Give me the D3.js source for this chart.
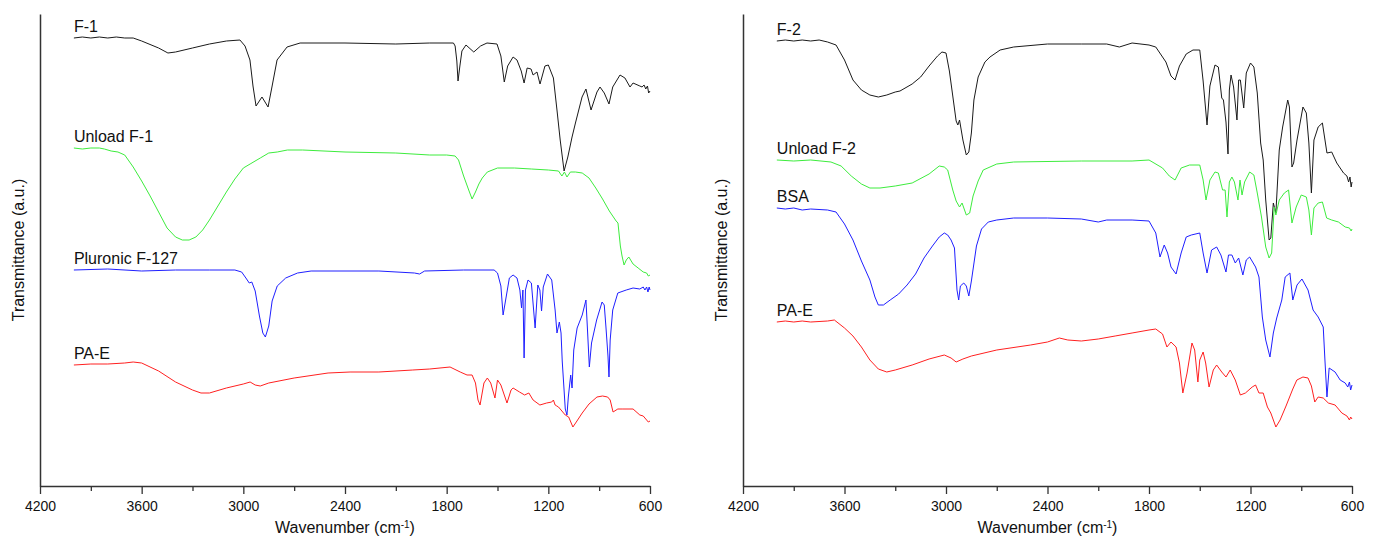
<!DOCTYPE html>
<html>
<head>
<meta charset="utf-8">
<script src="https://cdn.jsdelivr.net/npm/d3@7"></script>
<style>
  body { margin: 0; background: #fff; }
  text { font-family: Arial, "Liberation Sans", sans-serif; fill: #111; }
</style>
</head>
<body>
<svg id="chart" width="1379" height="538"></svg>
<script>
// tick values (wavenumber, cm-1)
const majorTicks = [4200, 3600, 3000, 2400, 1800, 1200, 600];
const minorTicks = [3900, 3300, 2700, 2100, 1500, 900];

// spectra as [wavenumber, transmittance (a.u., stacked)]
const f1 = [[4000,448],[3950,449],[3900,448],[3850,449],[3800,448],[3750,449],[3700,448],[3650,448],[3600,445],[3500,438],[3445,433],[3400,434],[3300,438],[3200,442],[3100,445],[3020,446],[2990,440],[2961,426],[2943,400],[2925,380],[2890,389],[2854,379],[2830,400],[2801,426],[2742,439],[2665,443],[2400,443],[2100,442],[1900,443],[1760,443],[1750,440],[1740,425],[1733,405],[1722,420],[1710,435],[1686,441],[1640,434],[1600,440],[1562,443],[1503,442],[1480,430],[1460,404],[1440,420],[1408,429],[1385,426],[1360,415],[1343,403],[1325,418],[1302,417],[1290,411],[1267,414],[1249,402],[1220,420],[1200,421],[1170,408],[1149,376],[1130,346],[1107,315],[1085,329],[1060,349],[1040,363],[1001,389],[978,397],[948,376],[913,394],[895,399],[870,393],[842,382],[820,399],[777,411],[748,408],[718,399],[700,403],[660,400],[647,399],[635,401],[625,397],[615,400],[608,393],[600,395]];

const unloadF1 = [[4000,338],[3950,337],[3900,338],[3850,338],[3820,337],[3780,335],[3740,334],[3700,331],[3650,319],[3600,305],[3550,290],[3500,274],[3450,258],[3400,249],[3360,246],[3320,246],[3280,249],[3240,256],[3200,266],[3150,280],[3100,294],[3050,307],[3000,318],[2960,322],[2900,328],[2850,333],[2800,334],[2740,336],[2650,336],[2400,334],[2100,333],[1900,331],[1800,331],[1750,330],[1730,326],[1700,310],[1670,296],[1650,287],[1630,294],[1610,302],[1590,308],[1560,314],[1500,318],[1400,318],[1300,317],[1200,316],[1140,315],[1120,310],[1105,314],[1090,309],[1070,314],[1040,314],[1000,313],[960,308],[920,298],[880,287],[840,275],[800,265],[789,263],[775,240],[765,230],[753,221],[740,226],[725,229],[700,222],[670,218],[640,214],[620,213],[610,210],[600,211]];

const pluronic = [[4000,216],[3800,217],[3600,215],[3400,216],[3200,216],[3050,216],[3010,214],[2985,208],[2965,203],[2950,204],[2930,195],[2905,170],[2885,153],[2870,149],[2850,160],[2830,185],[2800,200],[2750,208],[2680,213],[2600,215],[2200,215],[1990,213],[1960,212],[1930,215],[1700,216],[1520,216],[1500,213],[1480,200],[1467,171],[1450,188],[1430,208],[1408,211],[1385,208],[1368,196],[1358,178],[1350,196],[1343,128],[1335,196],[1320,206],[1300,203],[1278,158],[1262,201],[1250,196],[1240,175],[1230,199],[1205,212],[1180,206],[1160,176],[1149,153],[1135,164],[1125,153],[1118,125],[1100,77],[1090,71],[1082,89],[1068,111],[1060,98],[1050,136],[1030,158],[1000,171],[978,186],[968,153],[958,119],[945,143],[915,166],[883,184],[870,181],[860,159],[848,130],[842,109],[835,146],[820,176],[790,193],[740,196],[700,198],[660,197],[640,199],[630,196],[620,199],[612,194],[605,199],[600,196]];

const paeLeft = [[4000,121],[3900,122],[3800,122],[3700,123],[3650,124],[3600,123],[3500,115],[3400,104],[3300,96],[3250,93],[3200,93],[3100,98],[3000,102],[2960,104],[2930,101],[2900,100],[2850,103],[2700,108],[2500,113],[2370,114],[2200,114],[2000,116],[1900,117],[1780,119],[1720,114],[1680,111],[1650,111],[1630,103],[1615,86],[1603,81],[1580,103],[1560,108],[1540,103],[1515,88],[1500,106],[1480,101],[1444,83],[1420,96],[1408,98],[1370,94],[1340,91],[1315,93],[1290,86],[1250,81],[1210,83],[1180,84],[1170,86],[1160,81],[1150,80],[1140,79],[1100,71],[1080,69],[1055,59],[1035,64],[1000,73],[960,82],[913,89],[880,90],[850,89],[835,86],[818,74],[790,77],[760,77],[700,77],[660,71],[640,70],[620,66],[610,64],[600,65]];

const f2 = [[4000,445],[3950,446],[3900,445],[3850,446],[3800,445],[3750,446],[3700,444],[3650,441],[3600,426],[3550,406],[3500,396],[3450,391],[3400,389],[3350,391],[3300,394],[3272,395],[3200,402],[3150,409],[3100,420],[3050,430],[3024,434],[3000,433],[2980,415],[2960,390],[2940,365],[2930,361],[2920,366],[2900,346],[2880,331],[2865,334],[2850,353],[2835,386],[2810,409],[2770,424],[2740,429],[2680,436],[2600,439],[2400,442],[2200,442],[2050,442],[1975,439],[1900,443],[1800,441],[1760,439],[1700,424],[1670,410],[1646,406],[1620,420],[1580,432],[1540,436],[1500,436],[1480,405],[1457,361],[1440,400],[1410,421],[1390,419],[1370,388],[1360,386],[1345,364],[1333,332],[1325,396],[1315,411],[1300,399],[1280,366],[1270,406],[1260,406],[1240,378],[1225,413],[1200,423],[1180,419],[1160,393],[1140,343],[1125,326],[1110,286],[1090,246],[1080,248],[1065,283],[1050,273],[1030,336],[1010,359],[980,386],[970,379],[955,319],[945,323],[925,346],[890,379],[870,373],[855,343],[840,293],[825,346],[800,359],[775,363],[748,333],[720,334],[690,323],[650,313],[630,310],[620,304],[612,309],[605,299],[600,304]];

const unloadF2 = [[4000,326],[3900,325],[3800,326],[3680,324],[3620,320],[3560,310],[3500,302],[3450,298],[3390,298],[3300,300],[3200,303],[3100,312],[3040,320],[3010,319],[2990,316],[2960,296],[2940,285],[2920,279],[2905,283],[2880,271],[2860,273],[2840,290],[2810,305],[2780,316],[2700,322],[2600,324],[2200,325],[1900,325],[1800,326],[1720,318],[1680,310],[1646,306],[1610,318],[1560,321],[1500,321],[1480,306],[1463,286],[1440,306],[1410,314],[1390,313],[1365,296],[1350,296],[1339,269],[1325,304],[1310,309],[1295,304],[1274,286],[1262,306],[1250,291],[1235,304],[1205,314],[1180,311],[1160,293],[1135,269],[1110,239],[1090,228],[1075,233],[1060,279],[1050,271],[1030,286],[1000,293],[975,296],[955,263],[930,279],[900,291],[870,289],[855,276],[840,251],[825,278],[800,283],[775,284],[750,268],[720,266],[680,264],[640,259],[615,258],[605,255],[600,257]];

const bsa = [[4000,278],[3950,277],[3900,278],[3850,276],[3800,277],[3700,276],[3650,274],[3600,262],[3550,246],[3500,225],[3450,206],[3420,189],[3400,181],[3370,181],[3330,186],[3280,192],[3230,201],[3180,212],[3130,228],[3080,240],[3040,249],[3010,253],[2990,251],[2970,246],[2950,238],[2935,196],[2925,186],[2915,200],[2895,203],[2880,200],[2865,190],[2850,205],[2820,240],[2790,257],[2750,264],[2700,266],[2600,268],[2400,268],[2200,267],[2100,264],[2050,266],[1900,266],[1800,265],[1760,253],[1735,229],[1710,241],[1690,233],[1670,219],[1640,212],[1610,233],[1580,249],[1550,251],[1500,253],[1480,233],[1457,213],[1430,236],[1400,239],[1375,231],[1345,214],[1330,231],[1310,231],[1290,223],[1270,228],[1245,211],[1225,226],[1205,229],[1170,219],[1150,209],[1130,169],[1110,146],[1085,129],[1065,153],[1045,168],[1015,186],[995,209],[967,213],[950,186],[925,201],[896,207],[860,196],[830,176],[800,169],[770,159],[760,126],[748,89],[735,118],[700,114],[670,106],[640,103],[625,99],[615,104],[608,96],[600,101]];

const paeRight = [[4000,164],[3950,165],[3900,164],[3850,165],[3800,164],[3700,165],[3660,166],[3600,158],[3550,150],[3500,139],[3450,126],[3400,117],[3350,114],[3300,116],[3200,121],[3100,127],[3010,131],[2970,128],[2940,124],[2900,127],[2850,130],[2700,136],[2500,141],[2400,144],[2330,148],[2280,146],[2200,145],[2100,147],[2000,150],[1900,153],[1800,156],[1760,157],[1720,152],[1694,139],[1670,144],[1640,139],[1620,123],[1600,93],[1575,113],[1546,143],[1530,136],[1511,104],[1500,126],[1480,134],[1465,123],[1445,99],[1420,116],[1400,121],[1370,114],[1345,109],[1320,116],[1290,106],[1260,91],[1230,93],[1190,99],[1170,101],[1150,93],[1125,93],[1100,79],[1080,73],[1050,59],[1025,66],[990,80],[950,97],[926,106],[890,109],[860,108],[840,100],[820,84],[800,89],[770,88],[740,83],[700,81],[660,73],[630,70],[615,66],[608,69],[600,67]];

const leftNames = ["F-1", "Unload F-1", "Pluronic F-127", "PA-E"];
const rightNames = ["F-2", "Unload F-2", "BSA", "PA-E"];
const seriesColors = ["#1a1a1a", "#3dec3d", "#1f1fff", "#ff2020"];

const svg = d3.select("#chart");
const y = d3.scaleLinear().domain([0, 472]).range([486, 14]);

function panel(left, right, names, datasets) {
    const x = d3.scaleLinear().domain([4200, 600]).range([left, right]);
    const g = svg.append("g");

    // minor ticks first, then major axis on top
    g.append("g")
        .attr("transform", `translate(0,${y(0)})`)
        .call(d3.axisBottom(x).tickValues(minorTicks).tickSize(5).tickFormat(""))
        .call(a => a.select(".domain").remove())
        .selectAll("line").attr("stroke", "#333").attr("stroke-width", 1.3);

    const xAxis = g.append("g")
        .attr("transform", `translate(0,${y(0)})`)
        .call(d3.axisBottom(x).tickValues(majorTicks).tickFormat(d3.format("d"))
            .tickSize(8).tickSizeOuter(0).tickPadding(7));
    xAxis.select(".domain").attr("stroke", "#333").attr("stroke-width", 1.5);
    xAxis.selectAll("line").attr("stroke", "#333").attr("stroke-width", 1.3);
    xAxis.selectAll("text").attr("font-size", 14).attr("font-family", "Arial, 'Liberation Sans', sans-serif").attr("fill", "#222");

    const yAxis = g.append("g")
        .attr("transform", `translate(${left},0)`)
        .call(d3.axisLeft(y).tickValues([]).tickSizeOuter(0));
    yAxis.select(".domain").attr("stroke", "#333").attr("stroke-width", 1.5);

    const title = g.append("text")
        .attr("x", (left + right) / 2)
        .attr("y", 533)
        .attr("text-anchor", "middle")
        .attr("font-size", 16);
    title.append("tspan").text("Wavenumber (cm");
    title.append("tspan").attr("baseline-shift", "super").attr("font-size", 10).text("-1");
    title.append("tspan").text(")");

    g.append("text")
        .attr("transform", `translate(${left - 16},${(y(0) + y(472)) / 2}) rotate(-90)`)
        .attr("text-anchor", "middle")
        .attr("font-size", 16)
        .text("Transmittance (a.u.)");

    const line = d3.line()
        .x(d => x(d[0]))
        .y(d => y(d[1]));

    datasets.forEach((data, i) => {
        g.append("path")
            .datum(data)
            .attr("fill", "none")
            .attr("stroke", seriesColors[i])
            .attr("stroke-width", 1)
            .attr("stroke-linejoin", "round")
            .attr("d", line);

        g.append("text")
            .attr("x", x(data[0][0]))
            .attr("y", y(data[0][1]) - 6)
            .attr("font-size", 16)
            .text(names[i]);
    });
}

panel(40, 650, leftNames, [f1, unloadF1, pluronic, paeLeft]);
panel(743, 1352, rightNames, [f2, unloadF2, bsa, paeRight]);
</script>
</body>
</html>
